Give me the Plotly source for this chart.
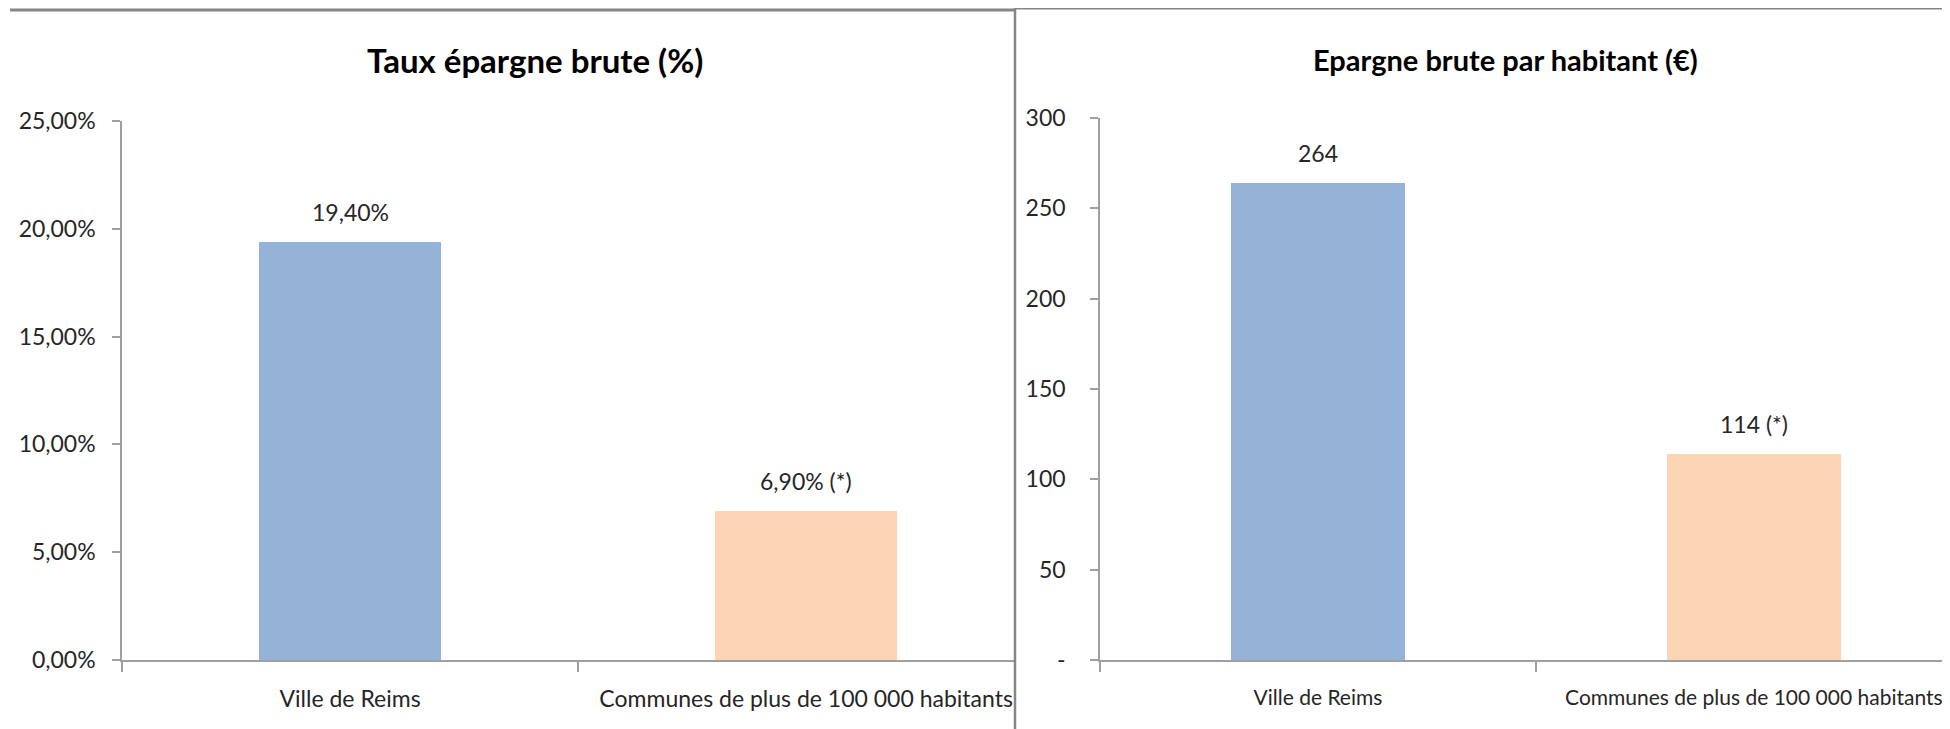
import plotly.graph_objects as go

# ---- data ----
categories = ["Ville de Reims", "Communes de plus de 100 000 habitants"]
taux_values = [19.40, 6.90]
taux_labels = ["19,40%", "6,90% (*)"]
hab_values = [264, 114]
hab_labels = ["264", "114 (*)"]
taux_ticks = [0, 5, 10, 15, 20, 25]
taux_ticktext = ["0,00%", "5,00%", "10,00%", "15,00%", "20,00%", "25,00%"]
hab_ticks = [0, 50, 100, 150, 200, 250, 300]
hab_ticktext = ["-", "50", "100", "150", "200", "250", "300"]
bar_colors = ["#95b3d7", "#fcd5b4"]
title_left = "Taux épargne brute (%)"
title_right = "Epargne brute par habitant (€)"

# page body has an 8px margin: figure occupies (8,8)-(1950,729) of the window
OFF = 8
W, H = 1950 - OFF, 729 - OFF


def px(x):
    return (x - OFF) / W


def py(y):
    return 1 - (y - OFF) / H


FONT = "Lato, Open Sans, sans-serif"
TXT = "#262626"
AX = "#9f9f9f"

fig = go.Figure()
fig.add_trace(go.Bar(x=categories, y=taux_values, marker_color=bar_colors,
                     marker_line_width=0, width=0.4, xaxis="x", yaxis="y",
                     hoverinfo="skip", showlegend=False))
fig.add_trace(go.Bar(x=categories, y=hab_values, marker_color=bar_colors,
                     marker_line_width=0, width=0.4, xaxis="x2", yaxis="y2",
                     hoverinfo="skip", showlegend=False))

annotations = []
for c, v, t in zip(categories, taux_values, taux_labels):
    annotations.append(dict(x=c, y=v, xref="x", yref="y", text=t, showarrow=False,
                            yanchor="bottom", yshift=14, font=dict(size=23, color=TXT, family=FONT)))
for c, v, t in zip(categories, hab_values, hab_labels):
    annotations.append(dict(x=c, y=v, xref="x2", yref="y2", text=t, showarrow=False,
                            yanchor="bottom", yshift=14, font=dict(size=23, color=TXT, family=FONT)))
annotations.append(dict(x=px(535), y=py(60), xref="paper", yref="paper", text="<b>" + title_left + "</b>",
                        showarrow=False, xanchor="center", yanchor="middle",
                        font=dict(size=33, color="#000000", family=FONT)))
annotations.append(dict(x=px(1505), y=py(60), xref="paper", yref="paper", text="<b>" + title_right + "</b>",
                        showarrow=False, xanchor="center", yanchor="middle",
                        font=dict(size=29, color="#000000", family=FONT)))

xcommon = dict(type="category", showline=True, linecolor=AX, linewidth=1.5, ticks="outside",
               tickson="boundaries", ticklen=10, tickcolor=AX, tickwidth=1.5, showgrid=False,
               zeroline=False, ticklabelstandoff=18,
               tickangle=0, automargin=False, fixedrange=True)
ycommon = dict(showline=True, linecolor=AX, linewidth=1.5, ticks="outside", ticklen=8,
               tickcolor=AX, tickwidth=1.5, showgrid=False, zeroline=False,
               tickfont=dict(size=23, color=TXT, family=FONT), automargin=False, fixedrange=True)

fig.update_layout(
    width=W, height=H, autosize=False,
    margin=dict(l=0, r=0, t=0, b=0, autoexpand=False),
    paper_bgcolor="white", plot_bgcolor="white",
    bargap=0,
    xaxis=dict(xcommon, domain=[px(122), px(1015)], range=[-0.5, 1.458], anchor="y",
               tickfont=dict(size=23, color=TXT, family=FONT)),
    yaxis=dict(ycommon, domain=[py(660), py(121)], range=[0, 25], tickvals=taux_ticks,
               ticktext=taux_ticktext, anchor="x", ticklabelstandoff=12),
    xaxis2=dict(xcommon, domain=[px(1100), 1.0], range=[-0.5, 1.45], anchor="y2",
                tickfont=dict(size=21, color=TXT, family=FONT)),
    yaxis2=dict(ycommon, domain=[py(660), py(118)], range=[0, 300], tickvals=hab_ticks,
                ticktext=hab_ticktext, anchor="x2", ticklabelstandoff=20),
    annotations=annotations,
    shapes=[
        dict(type="line", xref="paper", yref="paper", x0=px(10), x1=px(1015), y0=py(10), y1=py(10),
             line=dict(color="#868686", width=3)),
        dict(type="line", xref="paper", yref="paper", x0=px(1015), x1=1.0, y0=py(8), y1=py(8),
             line=dict(color="#868686", width=3)),
        dict(type="line", xref="paper", yref="paper", x0=px(1015), x1=px(1015), y0=0, y1=py(8),
             line=dict(color="#868686", width=2.5)),
    ],
)

fig.write_html("out.html")
